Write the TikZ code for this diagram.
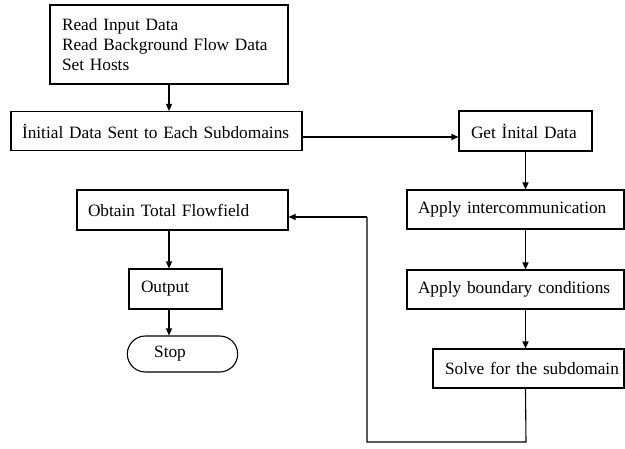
\documentclass[tikz,border=0pt]{standalone}
\usepackage{fontspec}
\setmainfont{Liberation Serif}
\usetikzlibrary{arrows.meta,shapes.misc}
\begin{document}
\begin{tikzpicture}[x=1pt,y=-1pt,
  box/.style={draw, line width=1.1pt, align=left, font=\fontsize{17.3}{20}\selectfont, inner ysep=0pt, anchor=center},
  arr/.style={line width=1.1pt, -{Triangle[length=7pt,width=6pt]}},
  ln/.style={line width=1.1pt}]
\useasboundingbox (0,0) rectangle (625,448);
\node[box, inner xsep=12pt, text width=214pt, minimum height=79pt] (b1) at (169,44.5) {Read Input Data\\Read Background Flow Data\\Set Hosts};
\node[box, inner xsep=11pt, text width=269pt, minimum height=39pt] (b2) at (156.5,131) {\mbox{İnitial Data Sent to Each Subdomains}};
\node[box, inner xsep=12pt, text width=109pt, minimum height=40pt] (get) at (525.5,131) {\mbox{Get İnital Data}};
\node[box, inner xsep=11pt, text width=195pt, minimum height=39pt] (inter) at (515.5,209.5) {\mbox{Apply intercommunication}};
\node[box, inner xsep=11pt, text width=195pt, minimum height=39pt] (bound) at (515.5,289.5) {\mbox{Apply boundary conditions}};
\node[box, inner xsep=12pt, text width=167pt, minimum height=39pt] (solve) at (528.5,368.5) {\mbox{Solve for the subdomain}};
\node[box, inner xsep=11pt, text width=189pt, minimum height=40pt] (obtain) at (182.5,210) {\mbox{Obtain Total Flowfield}};
\node[box, inner xsep=12pt, text width=69pt, minimum height=40pt] (output) at (175.5,289) {\mbox{Output}};
\node[box, rounded rectangle, inner xsep=0pt, text width=107pt, minimum height=36pt, align=center] (stop) at (182.5,354) {\hspace*{-25pt}Stop};
\coordinate (c1) at (526,442);
\coordinate (c2) at (367,442);
\coordinate (c3) at (367,217);
\draw[arr] (b1.south) -- (b1.south |- b2.north);
\draw[arr] ([yshift=-6pt]b2.east) -- ([yshift=-6pt]get.west);
\draw[arr] (get.south) -- (get.south |- inter.north);
\draw[arr] (get.south |- inter.south) -- (get.south |- bound.north);
\draw[arr] (get.south |- bound.south) -- (get.south |- solve.north);
\draw[ln] (get.south |- solve.south) -- (c1) -- (c2) -- (c3);
\draw[arr] (c3) -- (obtain.east |- c3);
\draw[arr] (b1.south |- obtain.south) -- (b1.south |- output.north);
\draw[arr] (b1.south |- output.south) -- (b1.south |- stop.north);
\end{tikzpicture}
\end{document}
